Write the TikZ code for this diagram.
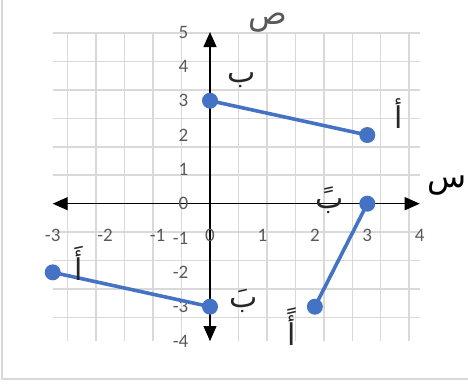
\documentclass[tikz,border=0pt]{standalone}
\usepackage{fontspec}
\setmainfont{Carlito}
\newfontfamily\arabicfont[Script=Arabic]{DejaVu Sans}
\TeXXeTstate=1
\usetikzlibrary{arrows.meta}
\definecolor{gridgray}{HTML}{D9D9D9}
\definecolor{ticktext}{HTML}{595959}
\definecolor{ptblue}{HTML}{4472C4}
\definecolor{lbl}{HTML}{262626}
\tikzset{
  gridline/.style={gridgray, line width=1.5pt},
  axisline/.style={black, line width=1.2pt, {Triangle[length=15pt,width=13pt]}-{Triangle[length=15pt,width=13pt]}},
  ticklbl/.style={ticktext, font=\fontsize{19}{19}\selectfont, inner sep=0pt},
  ptdot/.style={circle, fill=ptblue, minimum size=16pt, inner sep=0pt},
  segline/.style={ptblue, line width=3.6pt},
  arlbl/.style={lbl, font=\arabicfont\fontsize{30}{30}\selectfont, inner sep=0pt},
  axlbl/.style={font=\arabicfont\fontsize{32}{32}\selectfont, inner sep=0pt}
}
\begin{document}
\begin{tikzpicture}[x=1pt,y=1pt]
\useasboundingbox (0,0) rectangle (468,383);
\draw[gridline] (2,383) -- (2,4) -- (468,4);
\begin{scope}[shift={(210,179.3)}, x=52.43pt, y=34.33pt]
  \draw[gridline] (-3,-4) grid (4,5);
  \coordinate (xl) at (-3,0);
  \coordinate (xr) at (4,0);
  \coordinate (yb) at (0,-4);
  \coordinate (yt) at (0,5);
  \draw[axisline] (xl) -- (xr);
  \draw[axisline] (yb) -- (yt);
  \foreach \v [count=\i] in {-3,...,4}
    \node[ticklbl] (xt\i) at (\v,-0.91) {\v};
  \foreach \v [count=\i] in {-4,...,5}
    \node[ticklbl, anchor=east] (ytk\i) at (-0.41,\v) {\v};
  \node[axlbl, ticktext] (ylab) at (1.1,5.28) {\beginR ص\endR};
  \node[axlbl, black] (xlab) at (4.53,0.52) {\beginR س\endR};
  \coordinate (pA) at (3,2);
  \coordinate (pB) at (0,3);
  \coordinate (pA1) at (2,-3);
  \coordinate (pB1) at (3,0);
  \coordinate (pA2) at (-3,-2);
  \coordinate (pB2) at (0,-3);
  \draw[segline] (pB) -- (pA);
  \draw[segline] (pB1) -- (pA1);
  \draw[segline] (pA2) -- (pB2);
  \node[ptdot] (A) at (pA) {};
  \node[ptdot] (B) at (pB) {};
  \node[ptdot] (A1) at (pA1) {};
  \node[ptdot] (B1) at (pB1) {};
  \node[ptdot] (A2) at (pA2) {};
  \node[ptdot] (B2) at (pB2) {};
  \node[arlbl] (lA) at (3.6,2.64) {\beginR أ\endR};
  \node[arlbl] (lB) at (0.6,3.6) {\beginR ب\endR};
  \node[arlbl] (lB1) at (2.29,0.1) {\beginR بً\endR};
  \node[arlbl] (lA1) at (1.56,-3.59) {\beginR أً\endR};
  \node[arlbl] (lA2) at (-2.5,-1.73) {\beginR أَ\endR};
  \node[arlbl] (lB2) at (0.65,-2.84) {\beginR بَ\endR};
\end{scope}
\end{tikzpicture}
\end{document}
